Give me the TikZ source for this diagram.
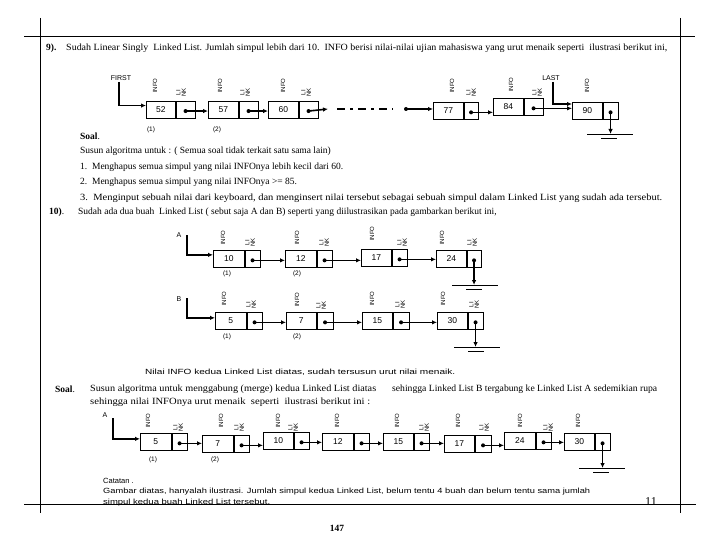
\documentclass[tikz,border=0pt]{standalone}
\usepackage{fontspec}
\setmainfont{Liberation Serif}
\setsansfont{Liberation Sans}
\usetikzlibrary{arrows.meta}
\newcommand\fitw[2]{\resizebox{#1pt}{\height}{#2}}
\newcommand\LL[6]{%
  \node[infobox, minimum width=#4, anchor=north west] (#1i) at (#2,#3) {#6};
  \node[linkbox, minimum width=#5, anchor=north west] (#1l) at (#1i.north east) {};
  \coordinate (#1d) at ([yshift=-1.5pt]#1l.center);
  \fill (#1d) circle (2pt);}
\newcommand\Lab[4]{\node[lbl] (#1) at (#2,#3) {#4};}
\newcommand\Gnd[3]{%
  \coordinate (#1) at (#2,#3);
  \draw[gline] ([xshift=-20pt]#1) -- ([xshift=26pt]#1);
  \draw[gline] ([xshift=-6pt,yshift=-4.5pt]#1) -- ([xshift=10pt,yshift=-4.5pt]#1);}
\begin{document}
\begin{tikzpicture}[x=1pt,y=-1pt,
  body/.style={font=\fontsize{9.5}{11}\selectfont, inner sep=0, anchor=west},
  note/.style={font=\sffamily\fontsize{7.5}{9}\selectfont, inner sep=0, anchor=west},
  lbl/.style={font=\sffamily\fontsize{6}{5.5}\selectfont, inner sep=0, rotate=90, anchor=west, align=center},
  tag/.style={font=\sffamily\fontsize{7}{8}\selectfont, inner sep=0},
  num/.style={font=\sffamily\fontsize{6.5}{8}\selectfont, inner sep=0},
  infobox/.style={draw, line width=0.7pt, inner sep=0, minimum height=17, font=\sffamily\fontsize{8.5}{10}\selectfont},
  linkbox/.style={draw, line width=0.7pt, inner sep=0, minimum height=17},
  ptr/.style={line width=1.6pt, -{Latex[length=5pt,width=4.5pt]}},
  gline/.style={line width=0.8pt},
  frame/.style={line width=0.9pt}]
\useasboundingbox (0,0) rectangle (720,540);
\fill[white] (0,0) rectangle (720,540);
% page frame
\draw[frame] (24,36) -- (695,36);
\draw[frame] (24,504) -- (696,504);
\draw[frame] (40,18) -- (40,513);
\draw[frame] (680,18) -- (680,513);

% ---- Section 9 ----
\node[body] (t9n) at (46,48) {\textbf{9).}};
\node[body] (t9) at (66,48) {\fitw{601}{Sudah Linear Singly\ \ Linked List. Jumlah simpul lebih dari 10.\ \ INFO berisi nilai-nilai ujian mahasiswa yang urut menaik seperti\ \ ilustrasi berikut ini,}};

\LL{a1}{146}{100.7}{29}{19}{52}
\LL{a2}{208}{100.7}{30}{19}{57}
\LL{a3}{268}{100.7}{30}{19}{60}
\LL{a4}{433}{102}{30}{14}{77}
\LL{a5}{493}{98}{30}{19}{84}
\LL{a6}{572}{102}{30}{15}{90}
\Lab{a1x}{155}{93}{INFO}\Lab{a1y}{181}{97}{LI\\NK}
\Lab{a2x}{220}{93}{INFO}\Lab{a2y}{245}{97}{LI\\NK}
\Lab{a3x}{283}{93}{INFO}\Lab{a3y}{306}{97}{LI\\NK}
\Lab{a4x}{452}{93}{INFO}\Lab{a4y}{471}{97}{LI\\NK}
\Lab{a5x}{511}{92}{INFO}\Lab{a5y}{537}{97}{LI\\NK}
\Lab{a6x}{587}{93}{INFO}
\node[tag] (first) at (121,78) {FIRST};
\node[tag] (last) at (551,78) {LAST};
\coordinate (firsttop) at (119,82);
\coordinate (lasttop) at (553,82);
\draw[ptr] (firsttop) |- ([yshift=4pt]a1i.west);
\draw[ptr] (lasttop) |- ([yshift=-2pt]a6i.north west);
\draw[ptr] (a1d) -- (a1d -| a2i.west);
\draw[ptr] (a2d) -- (a2d -| a3i.west);
\coordinate (a3end) at (328,109);
\draw[ptr] (a3d) -- (a3end);
\coordinate (dd1) at (337,109);
\coordinate (dd2) at (393,109);
\draw[line width=2pt, dash pattern=on 8pt off 5pt on 3pt off 5pt] (dd1) -- (dd2);
\coordinate (a4src) at (406,109);
\fill (a4src) circle (2pt);
\draw[ptr] (a4src) -- (a4src -| a4i.west);
\draw[ptr] (a4d) -- (a4d -| a5i.west);
\draw[ptr] (a5d) -- (a5d -| a6i.west);
\Gnd{g9}{607}{134}
\draw[ptr] (a6d) -- (a6d |- g9);
\node[num] (a1n) at (151,130) {(1)};
\node[num] (a2n) at (217,130) {(2)};

\node[body] (s9) at (80,136) {\textbf{Soal}.};
\node[body] (s9a) at (80,151) {Susun algoritma untuk : ( Semua soal tidak terkait satu sama lain)};
\node[body] (s9b) at (80,167) {1.\ \ Menghapus semua simpul yang nilai INFOnya lebih kecil dari 60.};
\node[body] (s9c) at (80,182) {2.\ \ Menghapus semua simpul yang nilai INFOnya >= 85.};
\node[body] (s9d) at (80,198) {\fitw{582}{3.\ \ Menginput sebuah nilai dari keyboard, dan menginsert nilai tersebut sebagai sebuah simpul dalam Linked List yang sudah ada tersebut.}};

% ---- Section 10 ----
\node[body] (t10n) at (49,212) {\textbf{10)}.};
\node[body] (t10) at (78,212) {Sudah ada dua buah\ \ Linked List ( sebut saja A dan B) seperti yang diilustrasikan pada gambarkan berikut ini,};

\node[tag] (lA) at (179,235) {A};
\coordinate (lAtop) at (187,235);
\LL{b1}{213}{250}{31}{15}{10}
\LL{b2}{285}{250}{31}{15}{12}
\LL{b3}{361}{249}{30}{15}{17}
\LL{b4}{436}{250}{30}{14}{24}
\Lab{b1x}{223}{245}{INFO}\Lab{b1y}{250}{247}{LI\\NK}
\Lab{b2x}{297}{245}{INFO}\Lab{b2y}{324}{247}{LI\\NK}
\Lab{b3x}{372}{241}{INFO}\Lab{b3y}{402}{247}{LI\\NK}
\Lab{b4x}{442}{245}{INFO}\Lab{b4y}{472}{247}{LI\\NK}
\draw[ptr] (lAtop) |- ([yshift=4pt]b1i.west);
\draw[ptr] (b1d) -- (b1d -| b2i.west);
\draw[ptr] (b2d) -- (b2d -| b3i.west);
\draw[ptr] (b3d) -- (b3d -| b4i.west);
\Gnd{gA}{472}{285}
\draw[ptr] (b4d) -- (b4d |- gA);
\node[num] (b1n) at (227,274) {(1)};
\node[num] (b2n) at (297,274) {(2)};

\node[tag] (lB) at (179,299) {B};
\coordinate (lBtop) at (187,298);
\LL{c1}{215}{312}{31}{15}{5}
\LL{c2}{286}{312}{30}{16}{7}
\LL{c3}{362}{312}{30}{16}{15}
\LL{c4}{437}{312}{30}{15}{30}
\Lab{c1x}{224}{306}{INFO}\Lab{c1y}{251}{309}{LI\\NK}
\Lab{c2x}{297}{307}{INFO}\Lab{c2y}{321}{310}{LI\\NK}
\Lab{c3x}{372}{306}{INFO}\Lab{c3y}{400}{309}{LI\\NK}
\Lab{c4x}{443}{306}{INFO}\Lab{c4y}{474}{309}{LI\\NK}
\draw[ptr] (lBtop) |- ([yshift=3pt]c1i.west);
\draw[ptr] (c1d) -- (c1d -| c2i.west);
\draw[ptr] (c2d) -- (c2d -| c3i.west);
\draw[ptr] (c3d) -- (c3d -| c4i.west);
\Gnd{gB}{474}{347}
\draw[ptr] (c4d) -- (c4d |- gB);
\node[num] (c1n) at (227,337) {(1)};
\node[num] (c2n) at (297,337) {(2)};

\node[note] (nilai) at (145,372) {\fitw{310}{Nilai INFO kedua Linked List diatas, sudah tersusun urut nilai menaik.}};

\node[body] (s10) at (55,389) {\textbf{Soal}.};
\node[body] (s10a) at (90,389) {\fitw{286}{Susun algoritma untuk menggabung (merge) kedua Linked List diatas}};
\node[body] (s10b) at (392,389) {\fitw{265}{sehingga Linked List B tergabung ke Linked List A sedemikian rupa}};
\node[body] (s10c) at (90,402) {\fitw{280}{sehingga nilai INFOnya urut menaik\ \ seperti\ \ ilustrasi berikut ini :}};

\node[tag] (lA2) at (105,415) {A};
\coordinate (lA2top) at (113,418);
\LL{d1}{140}{433}{31}{15}{5}
\LL{d2}{202}{435}{31}{15}{7}
\LL{d3}{263}{432}{30}{15}{10}
\LL{d4}{322}{433}{31}{15}{12}
\LL{d5}{383}{433}{30}{15}{15}
\LL{d6}{444}{435}{30}{16}{17}
\LL{d7}{504}{432}{31}{15}{24}
\LL{d8}{564}{433}{30}{15}{30}
\Lab{d1x}{148}{428}{INFO}\Lab{d1y}{178}{432}{LI\\NK}
\Lab{d2x}{221}{428}{INFO}\Lab{d2y}{239}{432}{LI\\NK}
\Lab{d3x}{278}{428}{INFO}\Lab{d3y}{293}{432}{LI\\NK}
\Lab{d4x}{337}{428}{INFO}
\Lab{d5x}{397}{428}{INFO}\Lab{d5y}{424}{432}{LI\\NK}
\Lab{d6x}{458}{428}{INFO}\Lab{d6y}{484}{432}{LI\\NK}
\Lab{d7x}{520}{428}{INFO}\Lab{d7y}{548}{432}{LI\\NK}
\Lab{d8x}{578}{428}{INFO}
\draw[ptr] (lA2top) |- ([yshift=3pt]d1i.west);
\draw[ptr] (d1d) -- (d1d -| d2i.west);
\draw[ptr] (d2d) -- (d2d -| d3i.west);
\draw[ptr] (d3d) -- (d3d -| d4i.west);
\draw[ptr] (d4d) -- (d4d -| d5i.west);
\draw[ptr] (d5d) -- (d5d -| d6i.west);
\draw[ptr] (d6d) -- (d6d -| d7i.west);
\draw[ptr] (d7d) -- (d7d -| d8i.west);
\Gnd{gD}{599}{468}
\draw[ptr] (d8d) -- (d8d |- gD);
\node[num] (d1n) at (153,460) {(1)};
\node[num] (d2n) at (215,460) {(2)};

\node[note] (cat1) at (103,481) {Catatan .};
\node[note] (cat2) at (103,492) {\fitw{487}{Gambar diatas, hanyalah ilustrasi. Jumlah simpul kedua Linked List, belum tentu 4 buah dan belum tentu sama jumlah}};
\node[note] (cat3) at (103,503) {\fitw{167}{simpul kedua buah Linked List tersebut.}};
\node[font=\fontsize{12}{14}\selectfont, inner sep=0] (pg11) at (651,502) {11};
\node[font=\bfseries\fontsize{9.5}{11}\selectfont, inner sep=0] (pg) at (337,528) {147};
\end{tikzpicture}
\end{document}
